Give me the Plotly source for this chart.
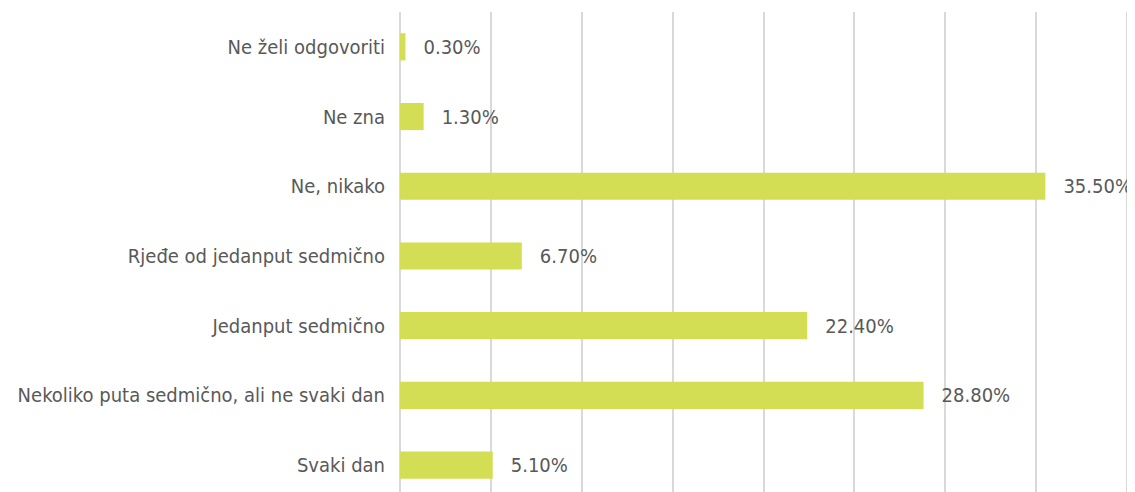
import plotly.graph_objects as go

categories = ["Svaki dan", "Nekoliko puta sedmično, ali ne svaki dan", "Jedanput sedmično",
              "Rjeđe od jedanput sedmično", "Ne, nikako", "Ne zna", "Ne želi odgovoriti"]
values = [5.10, 28.80, 22.40, 6.70, 35.50, 1.30, 0.30]
x_ticks = [0, 5, 10, 15, 20, 25, 30, 35, 40]

FONT = "DejaVu Sans Condensed, Liberation Sans Narrow, sans-serif"
FS = 20

fig = go.Figure(go.Bar(
    y=categories, x=values, orientation="h",
    marker=dict(color="#d3de55", line=dict(width=0)),
    texttemplate="\u00a0\u00a0\u2009%{x:.2f}%",
    textposition="outside",
    textfont=dict(family=FONT, size=FS, color="#595959"),
    cliponaxis=False,
))

# page body has an 8px margin, so the figure is sized/offset to compensate
fig.update_layout(
    width=1127, height=484,
    margin=dict(l=392, r=6, t=4, b=0, autoexpand=False),
    plot_bgcolor="white", paper_bgcolor="white",
    bargap=0.61,
    showlegend=False,
    uniformtext=dict(minsize=FS, mode="show"),
    font=dict(family=FONT, size=FS, color="#595959"),
)
fig.update_xaxes(range=[0, 40.1], tickvals=x_ticks, showticklabels=False,
                 showgrid=True, gridcolor="#d9d9d9", gridwidth=2,
                 zeroline=True, zerolinecolor="#d9d9d9", zerolinewidth=2,
                 showline=False, automargin=False)
fig.update_yaxes(range=[-0.386, 6.5], showgrid=False, zeroline=False, showline=False,
                 automargin=False, ticklabelstandoff=14,
                 tickfont=dict(family=FONT, size=FS, color="#595959"))

fig.write_html("out.html")
